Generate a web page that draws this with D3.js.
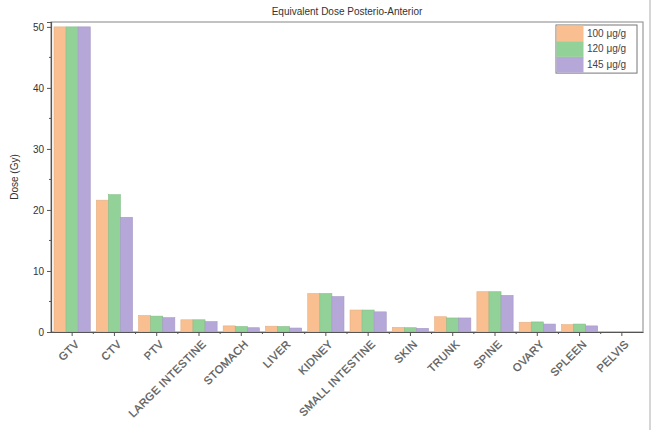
<!DOCTYPE html>
<html>
<head>
<meta charset="utf-8">
<script src="https://cdn.jsdelivr.net/npm/d3@7"></script>
<style>
  html, body { margin: 0; padding: 0; background: #fff; }
  svg { display: block; font-family: Arial, "Liberation Sans", sans-serif; }
</style>
</head>
<body>
<svg id="chart" width="654" height="430"></svg>
<script>
// Organs along the x axis
const categories = ["GTV", "CTV", "PTV", "LARGE INTESTINE", "STOMACH", "LIVER", "KIDNEY",
  "SMALL INTESTINE", "SKIN", "TRUNK", "SPINE", "OVARY", "SPLEEN", "PELVIS"];

// Equivalent dose (Gy) for each concentration
const dose100 = [50, 21.6, 2.7, 2.0, 1.0, 0.95, 6.3, 3.6, 0.75, 2.5, 6.6, 1.6, 1.2, 0];
const dose120 = [50, 22.5, 2.6, 2.0, 0.9, 0.9, 6.3, 3.6, 0.7, 2.3, 6.6, 1.65, 1.3, 0];
const dose145 = [50, 18.8, 2.35, 1.7, 0.7, 0.65, 5.8, 3.3, 0.6, 2.3, 6.0, 1.3, 1.0, 0];

const seriesNames = ["100 μg/g", "120 μg/g", "145 μg/g"];
const seriesValues = [dose100, dose120, dose145];
const seriesColors = ["#f9bf90", "#92d197", "#b5a7d8"];

const yTicks = [0, 10, 20, 30, 40, 50];

const svg = d3.select("#chart");
const m = { left: 51, right: 643, top: 22, bottom: 332 };

const x = d3.scaleBand().domain(categories).range([m.left, m.right]).padding(0);
const xInner = d3.scaleBand().domain(d3.range(seriesNames.length))
  .range([0, x.bandwidth()]).paddingOuter(0.25).paddingInner(0);
const y = d3.scaleLinear().domain([0, 50.8]).range([m.bottom, m.top]);

// Title
svg.append("text").attr("x", 347).attr("y", 15).attr("text-anchor", "middle")
  .attr("font-size", 10).attr("fill", "#333").text("Equivalent Dose Posterio-Anterior");

// Frame
svg.append("rect").attr("x", m.left).attr("y", m.top)
  .attr("width", m.right - m.left).attr("height", m.bottom - m.top)
  .attr("fill", "none").attr("stroke", "#9a9a9a").attr("stroke-width", 1.2);
svg.append("line").attr("x1", 650).attr("x2", 650).attr("y1", 0).attr("y2", 430)
  .attr("stroke", "#c8c8c8").attr("stroke-width", 1.5);

// Bars
const groups = svg.append("g").selectAll("g").data(seriesValues).join("g")
  .attr("fill", (d, i) => seriesColors[i]);
groups.each(function (vals, si) {
  d3.select(this).selectAll("rect").data(vals).join("rect")
    .attr("x", (d, i) => x(categories[i]) + xInner(si))
    .attr("width", xInner.bandwidth())
    .attr("y", d => y(d))
    .attr("height", d => y(0) - y(d))
    .attr("stroke", d3.color(seriesColors[si]).darker(0.25))
    .attr("stroke-width", 0.6);
});

// Y axis with minor ticks
const yAxis = d3.axisLeft(y).tickValues(yTicks).tickSize(4).tickPadding(3);
const gy = svg.append("g").attr("transform", `translate(${m.left},0)`).call(yAxis);
gy.select(".domain").attr("stroke", "#555").attr("stroke-width", 1.2);
gy.selectAll(".tick line").attr("stroke", "#555");
gy.selectAll(".tick text").attr("font-size", 10).attr("fill", "#333")
  .attr("font-family", "Arial, 'Liberation Sans', sans-serif");
svg.append("g").selectAll("line").data([5, 15, 25, 35, 45]).join("line")
  .attr("x1", m.left - 2).attr("x2", m.left).attr("y1", d => y(d)).attr("y2", d => y(d))
  .attr("stroke", "#555");

// X axis with slanted category labels
const xAxis = d3.axisBottom(x).tickSize(4).tickSizeOuter(0);
const gx = svg.append("g").attr("transform", `translate(0,${m.bottom})`).call(xAxis);
gx.select(".domain").attr("stroke", "#555").attr("stroke-width", 1.2);
gx.selectAll(".tick line").attr("stroke", "#555");
gx.selectAll(".tick text").remove();
gx.selectAll(".tick").append("text")
  .attr("transform", "translate(5,10) rotate(-45)")
  .attr("dy", "0.35em")
  .attr("text-anchor", "end")
  .attr("font-size", 11).attr("fill", "#5a5a5a")
  .attr("font-family", "Arial, 'Liberation Sans', sans-serif")
  .attr("letter-spacing", 0.4)
  .attr("stroke", "#5a5a5a").attr("stroke-width", 0.3)
  .text(d => d);
svg.append("g").selectAll("line").data(categories.slice(1)).join("line")
  .attr("x1", d => x(d)).attr("x2", d => x(d))
  .attr("y1", m.bottom).attr("y2", m.bottom + 2).attr("stroke", "#555");

// Y axis title
svg.append("text").attr("transform", `translate(18,${(m.top + m.bottom) / 2}) rotate(-90)`)
  .attr("text-anchor", "middle").attr("font-size", 10).attr("fill", "#333").text("Dose (Gy)");

// Legend
const lg = svg.append("g").attr("transform", "translate(556,25)");
const rowH = 15.7;
lg.append("rect").attr("width", 81).attr("height", rowH * 3 + 1)
  .attr("fill", "#fff").attr("stroke", "#777").attr("stroke-width", 1);
seriesNames.forEach((name, i) => {
  lg.append("rect").attr("x", 0.5).attr("y", 0.5 + i * rowH).attr("width", 27).attr("height", rowH)
    .attr("fill", seriesColors[i]);
  lg.append("text").attr("x", 31).attr("y", 11.5 + i * rowH)
    .attr("font-size", 10).attr("fill", "#444").text(name);
});
</script>
</body>
</html>
